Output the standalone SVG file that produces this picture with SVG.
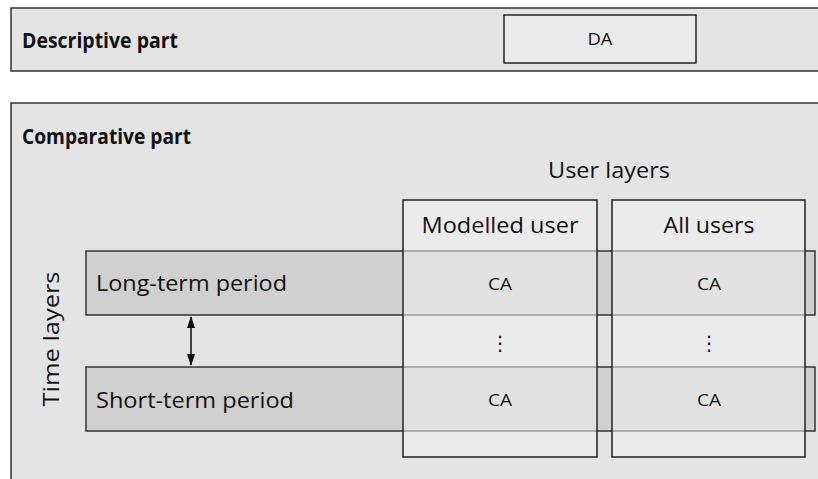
<svg xmlns="http://www.w3.org/2000/svg" width="818" height="479" viewBox="0 0 818 479">
<defs>
<style>
text{font-family:"Open Sans","Liberation Sans",sans-serif;fill:#111}
.part{fill:#e4e4e4;stroke:#333;stroke-width:1.5}
.bar{fill:#d0d0d0;stroke:#333;stroke-width:1.5}
.col{fill:#f0f0f0;fill-opacity:0.55;stroke:#222;stroke-width:1.5}
.box{fill:#ebebeb;stroke:#222;stroke-width:1.5}
.b{font-weight:bold;font-size:21px}
.l{font-size:21px}
.s{font-size:16px}
.d{font-size:20px;font-family:"DejaVu Sans",sans-serif}
</style>
<marker id="ah" viewBox="0 0 12 10" refX="11" refY="5" markerWidth="12" markerHeight="10" orient="auto-start-reverse" markerUnits="userSpaceOnUse">
<path d="M0,1 L12,5 L0,9 z" fill="#111"/>
</marker>
</defs>
<rect width="818" height="479" fill="#fff"/>
<g id="descriptive">
<rect class="part" x="11" y="8" width="820" height="63"/>
<text class="b" x="22" y="48" textLength="156" lengthAdjust="spacingAndGlyphs">Descriptive part</text>
</g>
<g id="da">
<rect class="box" x="504" y="15" width="192" height="48"/>
<text class="s" x="600" y="45" text-anchor="middle" textLength="25" lengthAdjust="spacingAndGlyphs">DA</text>
</g>
<g id="comparative">
<rect class="part" x="11" y="103" width="820" height="390"/>
<text class="b" x="22" y="144" textLength="169" lengthAdjust="spacingAndGlyphs">Comparative part</text>
<text class="l" x="609" y="178" text-anchor="middle" textLength="122" lengthAdjust="spacingAndGlyphs">User layers</text>
<text class="l" transform="translate(59,339) rotate(-90)" text-anchor="middle" textLength="135" lengthAdjust="spacingAndGlyphs">Time layers</text>
</g>
<g id="long-term">
<rect class="bar" x="86" y="251" width="729" height="64"/>
<text class="l" x="96" y="291" textLength="191" lengthAdjust="spacingAndGlyphs">Long-term period</text>
</g>
<g id="short-term">
<rect class="bar" x="86" y="367" width="729" height="64"/>
<text class="l" x="96" y="408" textLength="198" lengthAdjust="spacingAndGlyphs">Short-term period</text>
</g>
<g id="modelled-user">
<rect class="col" x="403" y="200" width="194" height="257"/>
<text class="l" x="500" y="233" text-anchor="middle" textLength="157" lengthAdjust="spacingAndGlyphs">Modelled user</text>
<text class="s" x="500" y="290" text-anchor="middle" textLength="24" lengthAdjust="spacingAndGlyphs">CA</text>
<text class="d" x="500" y="350" text-anchor="middle">⋮</text>
<text class="s" x="500" y="406" text-anchor="middle" textLength="24" lengthAdjust="spacingAndGlyphs">CA</text>
</g>
<g id="all-users">
<rect class="col" x="612" y="200" width="193" height="257"/>
<text class="l" x="709" y="233" text-anchor="middle" textLength="91" lengthAdjust="spacingAndGlyphs">All users</text>
<text class="s" x="709" y="290" text-anchor="middle" textLength="24" lengthAdjust="spacingAndGlyphs">CA</text>
<text class="d" x="709" y="350" text-anchor="middle">⋮</text>
<text class="s" x="709" y="406" text-anchor="middle" textLength="24" lengthAdjust="spacingAndGlyphs">CA</text>
</g>
<g id="connectors">
<line x1="191" y1="317" x2="191" y2="365" stroke="#111" stroke-width="1.5" marker-start="url(#ah)" marker-end="url(#ah)"/>
</g>
</svg>
